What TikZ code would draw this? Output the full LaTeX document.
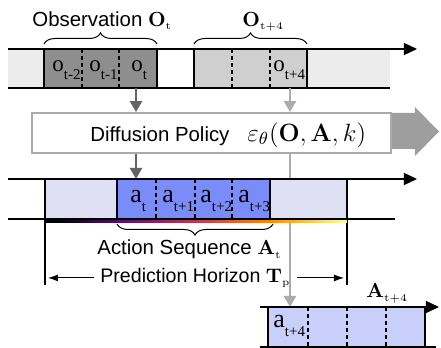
\RequirePackage{fix-cm}
\documentclass[tikz,border=0pt]{standalone}
\usepackage{amsmath,amssymb}
\usepackage[no-math]{fontspec}
\setmainfont{Liberation Sans}
\newfontfamily\seqfont{Liberation Serif}
\usepackage{tikz}
\usetikzlibrary{arrows.meta,calc,decorations.pathreplacing}

\definecolor{bandGray}{RGB}{236,236,236}
\definecolor{obsDark}{RGB}{142,142,142}
\definecolor{obsLight}{RGB}{207,207,207}
\definecolor{actLavender}{RGB}{224,224,245}
\definecolor{actBlue}{RGB}{122,140,247}
\definecolor{execBlue}{RGB}{200,208,250}
\definecolor{flowGray}{RGB}{100,100,100}
\definecolor{flowLightGray}{RGB}{172,172,172}
\definecolor{boxGray}{RGB}{170,170,170}
\definecolor{bigArrowGray}{RGB}{158,158,158}
\definecolor{infernoA}{RGB}{0,0,4}
\definecolor{infernoB}{RGB}{87,16,110}
\definecolor{infernoC}{RGB}{188,55,84}
\definecolor{infernoD}{RGB}{249,142,9}
\definecolor{infernoE}{RGB}{252,255,164}

% the path is filled by the 25bp--75bp part of the shading
\pgfdeclarehorizontalshading{inferno}{100bp}{color(0bp)=(infernoA); color(27bp)=(infernoA);
  color(37.5bp)=(infernoB); color(50bp)=(infernoC); color(62.5bp)=(infernoD);
  color(75bp)=(infernoE); color(100bp)=(infernoE)}

\newcommand{\seqtok}[2]{{\seqfont #1\raisebox{-4.5pt}{\fontsize{7.5}{7.5}\selectfont #2}}}
\newcommand{\bfsub}[2]{\mathbf{#1}_{\scriptscriptstyle\mathrm{#2}}}

\begin{document}
\begin{tikzpicture}[x=0.5pt,y=-0.5pt,
    band/.style={line width=0.65pt},
    cell/.style={line width=0.6pt,dash pattern=on 2pt off 1.5pt},
    timeline/.style={line width=0.65pt,-{Triangle[length=6.5pt,width=6pt]}},
    flowDark/.style={draw=flowGray,line width=1.2pt,-{Triangle[length=5.5pt,width=6pt]}},
    flowLight/.style={draw=flowLightGray,line width=1.2pt,-{Triangle[length=5.5pt,width=6pt]}},
    span/.style={line width=0.5pt,-{Latex[length=5pt,width=3.5pt]},shorten >=1.5pt},
    curly/.style={decorate,decoration={brace,amplitude=5.5pt},line width=0.5pt},
    caption/.style={font=\fontsize{10.2}{12}\selectfont,inner sep=0pt},
    token/.style={font=\fontsize{11.5}{12}\selectfont,inner sep=0pt,anchor=base west}]
  \useasboundingbox (0,0) rectangle (441,348);

  % observation timeline
  \fill[bandGray] (8,49) rectangle (390,88);
  \fill[obsDark] (44,49) rectangle (157,88);
  \fill[white] (157,49) rectangle (194,88);
  \fill[obsLight] (194,49) rectangle (307,88);
  \foreach \x in {82,119,232,270}
    \draw[cell] (\x,49) -- (\x,88);
  \draw[band] (44,49) -- (44,88) (157,49) -- (157,88)
              (194,49) -- (194,88) (307,49) -- (307,88);
  \draw[band] (8,88) -- (390,88);
  \draw[timeline] (8,49) -- (417,49);
  \node[token] (obs1) at (52,71) {\seqtok{o}{t-2}};
  \node[token] (obs2) at (89,71) {\seqtok{o}{t-1}};
  \node[token] (obs3) at (131,71) {\seqtok{o}{t}};
  \node[token] (obs4) at (273,71) {\seqtok{o}{t+4}};
  \draw[curly] (44,44) -- (157,44);
  \draw[curly] (194,44) -- (307,44);
  \node[caption,anchor=base west] (obsLabel) at (32,26) {Observation $\bfsub{O}{t}$};
  \node[caption,anchor=base west] (nextLabel) at (242,26) {$\bfsub{O}{t+4}$};

  % diffusion policy
  \fill[bigArrowGray] (391,113) -- (415,113) -- (415,107) -- (439,131.5)
                      -- (415,156) -- (415,149) -- (391,149) -- cycle;
  \node[draw=boxGray,fill=white,line width=0.9pt,minimum width=179.5pt,
        minimum height=20pt,inner sep=0pt] (policy) at (211.5,133) {};
  \node[caption,anchor=base west] (policyText) at (90,141)
    {Diffusion Policy\hspace{9pt}{\fontsize{12.5}{14}\selectfont$\varepsilon_\theta(\mathbf{O},\mathbf{A},k)$}};

  \coordinate (obsNow) at (136,88);
  \coordinate (obsNext) at (290,88);
  \coordinate (actNow) at (136,179);
  \coordinate (execNext) at (290,307);
  \draw[flowDark] (obsNow) -- (obsNow |- policy.north);
  \draw[flowLight] (obsNext) -- (obsNext |- policy.north);
  \draw[flowDark] (actNow |- policy.south) -- (actNow);
  \draw[flowLight] (execNext |- policy.south) -- (execNext);

  % action timeline
  \fill[actLavender] (45,179) rectangle (347,219);
  \fill[actBlue] (117,179) rectangle (270,219);
  \foreach \x in {156,195,232}
    \draw[cell] (\x,179) -- (\x,219);
  \draw[band] (117,179) -- (117,219) (270,179) -- (270,219);
  \draw[band] (45,179) -- (45,285) (347,179) -- (347,285);
  \shade[shading=inferno] (45,219) rectangle (347,223);
  \draw[band] (8,219) -- (395,219);
  \draw[timeline] (8,179) -- (417,179);
  \begin{scope}[token/.append style={font=\fontsize{13}{13}\selectfont}]
    \node[token] (act1) at (130,203) {\seqtok{a}{t}};
    \node[token] (act2) at (162,203) {\seqtok{a}{t+1}};
    \node[token] (act3) at (200,203) {\seqtok{a}{t+2}};
    \node[token] (act4) at (238,203) {\seqtok{a}{t+3}};
  \end{scope}
  \draw[curly] (273,224) -- (117,224);
  \node[caption,anchor=base west] (actLabel) at (97,255) {Action Sequence $\bfsub{A}{t}$};
  \node[caption,anchor=base west,inner xsep=3pt,font=\fontsize{9.8}{12}\selectfont] (horizon) at (94,283)
    {Prediction Horizon $\bfsub{T}{p}$};
  \coordinate (horizonLeft) at (45,0);
  \coordinate (horizonRight) at (347,0);
  \draw[span] (horizon.west) -- (horizon.west -| horizonLeft);
  \draw[span] (horizon.east) -- (horizon.east -| horizonRight);

  % executed actions
  \fill[execBlue] (268,307) rectangle (425,347);
  \foreach \x in {308,347,386}
    \draw[cell] (\x,307) -- (\x,347);
  \draw[band] (268,307) -- (268,347) (425,307) -- (425,347);
  \draw[band] (260,347) -- (436,347);
  \draw[timeline] (260,307) -- (439,307);
  \node[token,font=\fontsize{13}{13}\selectfont] (exec1) at (273,328) {\seqtok{a}{t+4}};
  \node[caption,anchor=base west] (execLabel) at (366,298) {$\bfsub{A}{t+4}$};
\end{tikzpicture}
\end{document}
